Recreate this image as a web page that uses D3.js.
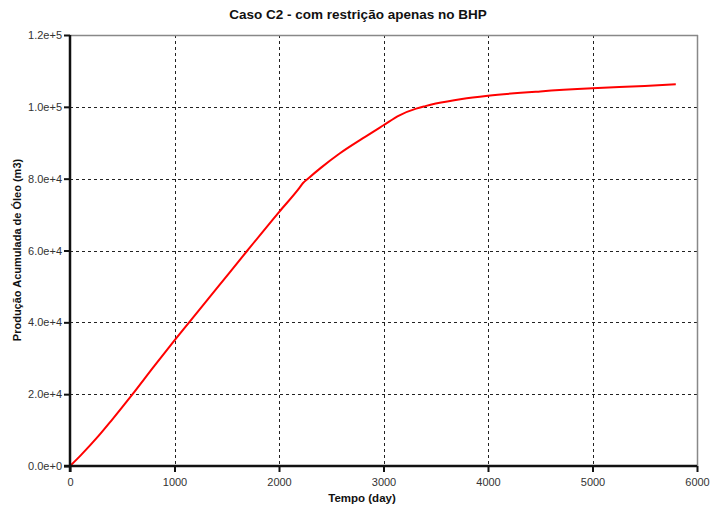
<!DOCTYPE html>
<html>
<head>
<meta charset="utf-8">
<script src="https://cdn.jsdelivr.net/npm/d3@7"></script>
<style>
  html, body { margin: 0; padding: 0; background: #fff; }
  svg { display: block; font-family: "Liberation Sans", Arial, sans-serif; }
</style>
</head>
<body>
<svg id="chart" width="710" height="511"></svg>
<script>
// Cumulative oil production over time (days, m3)
const days = [0, 100, 271, 400, 599, 800, 1000, 1140, 1400, 1698, 2000, 2197, 2230, 2277, 2400, 2580, 2800, 3000, 3153, 3312, 3400, 3500, 3750, 4000, 4500, 5000, 5500, 5797];
const oil  = [0, 2900, 8300, 12800, 20000, 27600, 34970, 40000, 49300, 60000, 70700, 77500, 78800, 80000, 83000, 87000, 91200, 94870, 97650, 99500, 100200, 100900, 102200, 103100, 104300, 105160, 105800, 106270];

const xTicks = [0, 1000, 2000, 3000, 4000, 5000, 6000];
const yTicks = [0, 20000, 40000, 60000, 80000, 100000, 120000];
const yTickLabels = ["0.0e+0", "2.0e+4", "4.0e+4", "6.0e+4", "8.0e+4", "1.0e+5", "1.2e+5"];

const titleText = "Caso C2 - com restrição apenas no BHP";
const xTitle = "Tempo (day)";
const yTitle = "Produção Acumulada de Óleo (m3)";

const margin = { left: 70, right: 13, top: 35, bottom: 45 };
const W = 710, H = 511;
const svg = d3.select("#chart");

const x = d3.scaleLinear().domain([0, 6000]).range([margin.left, W - margin.right]);
const y = d3.scaleLinear().domain([0, 120000]).range([H - margin.bottom, margin.top]);

// grid lines
const grid = svg.append("g");
grid.selectAll("line.v").data(xTicks.slice(1, -1)).join("line")
  .attr("x1", d => Math.round(x(d)) + 0.5).attr("x2", d => Math.round(x(d)) + 0.5)
  .attr("y1", y(120000)).attr("y2", y(0))
  .attr("stroke", "#222").attr("stroke-width", 1).attr("stroke-dasharray", "3,3");
grid.selectAll("line.h").data(yTicks.slice(1, -1)).join("line")
  .attr("y1", d => Math.round(y(d)) + 0.5).attr("y2", d => Math.round(y(d)) + 0.5)
  .attr("x1", x(0)).attr("x2", x(6000))
  .attr("stroke", "#222").attr("stroke-width", 1).attr("stroke-dasharray", "3,3");

// top and right frame
svg.append("line").attr("x1", x(0)).attr("x2", x(6000) + 1)
  .attr("y1", Math.round(y(120000)) + 0.5).attr("y2", Math.round(y(120000)) + 0.5)
  .attr("stroke", "#888").attr("stroke-width", 1.5);
svg.append("line").attr("x1", Math.round(x(6000)) + 0.5).attr("x2", Math.round(x(6000)) + 0.5)
  .attr("y1", y(120000)).attr("y2", y(0))
  .attr("stroke", "#888").attr("stroke-width", 1.5);

// data line
const line = d3.line().x((d, i) => x(days[i])).y(d => y(d)).curve(d3.curveMonotoneX);
svg.append("path").datum(oil)
  .attr("d", line).attr("fill", "none")
  .attr("stroke", "#ff0000").attr("stroke-width", 2);

// axes
const xAxis = d3.axisBottom(x).tickValues(xTicks).tickSize(6).tickPadding(6).tickFormat(d3.format("d"));
const gx = svg.append("g").attr("transform", `translate(0,${y(0)})`).call(xAxis);
gx.select(".domain").attr("stroke", "#111").attr("stroke-width", 2.5)
  .attr("d", `M${x(0) - 6},0H${x(6000)}`);
gx.selectAll(".tick line").attr("stroke", "#111").attr("stroke-width", 2);
gx.selectAll(".tick text").attr("font-size", 11).attr("fill", "#333")
  .attr("font-family", "Liberation Sans, Arial, sans-serif");

const yAxis = d3.axisLeft(y).tickValues(yTicks).tickSize(6).tickPadding(2)
  .tickFormat((d, i) => yTickLabels[i]);
const gy = svg.append("g").attr("transform", `translate(${x(0)},0)`).call(yAxis);
gy.select(".domain").attr("stroke", "#111").attr("stroke-width", 2.5)
  .attr("d", `M0,${y(0) + 6}V${y(120000)}`);
gy.selectAll(".tick line").attr("stroke", "#111").attr("stroke-width", 2);
gy.selectAll(".tick text").attr("font-size", 11).attr("fill", "#333")
  .attr("font-family", "Liberation Sans, Arial, sans-serif");

// titles
svg.append("text").attr("x", 358).attr("y", 19).attr("text-anchor", "middle")
  .attr("font-size", 13.5).attr("font-weight", "bold").attr("fill", "#111").text(titleText);
svg.append("text").attr("x", 362).attr("y", 502).attr("text-anchor", "middle")
  .attr("font-size", 11.5).attr("font-weight", "bold").attr("fill", "#111").text(xTitle);
svg.append("text").attr("transform", `translate(21,250) rotate(-90)`)
  .attr("text-anchor", "middle")
  .attr("font-size", 11).attr("font-weight", "bold").attr("fill", "#111").text(yTitle);
</script>
</body>
</html>
